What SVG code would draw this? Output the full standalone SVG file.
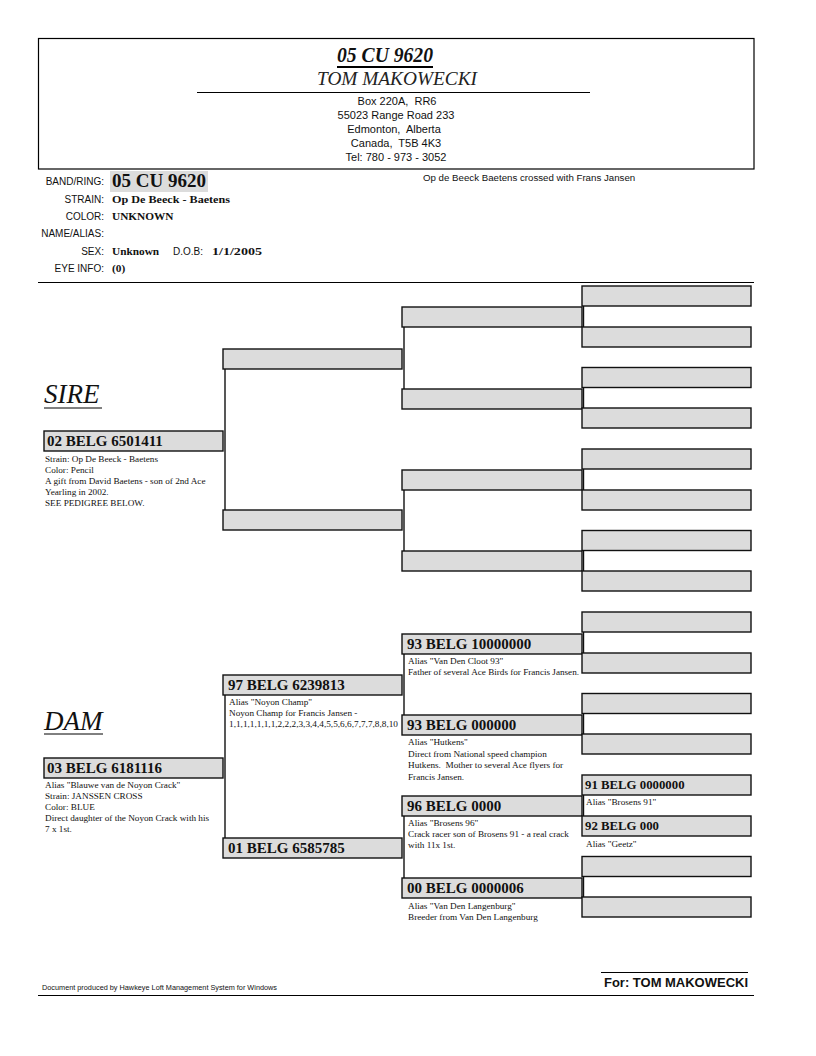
<svg xmlns="http://www.w3.org/2000/svg" width="816" height="1056" viewBox="0 0 816 1056">
<style>
.box{fill:#dcdcdc;stroke:#111;stroke-width:1.4}
.con{stroke:#111;stroke-width:1.4;fill:none}
.rule{stroke:#000;stroke-width:1.2}
.serif{font-family:"Liberation Serif","Times New Roman",serif}
.sans{font-family:"Liberation Sans",Arial,sans-serif}
.b15{font-family:"Liberation Serif",serif;font-weight:bold;font-size:15px;fill:#111}
.b12{font-family:"Liberation Serif",serif;font-weight:bold;font-size:12.8px;fill:#111}
.note{font-family:"Liberation Serif",serif;font-size:9.2px;fill:#111}
.lbl{font-family:"Liberation Sans",Arial,sans-serif;font-size:10px;fill:#111;text-anchor:end}
.val{font-family:"Liberation Serif",serif;font-weight:bold;font-size:11.3px;fill:#111}
.addr{font-family:"Liberation Sans",Arial,sans-serif;font-size:11px;fill:#111;text-anchor:middle;white-space:pre}
</style>
<rect width="816" height="1056" fill="#fff"/>

<g id="header">
<rect x="38.5" y="38.5" width="715.5" height="130.5" fill="none" stroke="#000" stroke-width="1.2"/>
<text x="385" y="62" class="serif" font-size="22" font-weight="bold" font-style="italic" text-anchor="middle" fill="#111" textLength="96" lengthAdjust="spacingAndGlyphs">05 CU 9620</text>
<line x1="337" y1="67" x2="433" y2="67" stroke="#000" stroke-width="2"/>
<text x="397" y="85" class="serif" font-size="18" font-style="italic" text-anchor="middle" fill="#222" textLength="160" lengthAdjust="spacingAndGlyphs">TOM MAKOWECKI</text>
<line x1="197" y1="92.5" x2="590" y2="92.5" class="rule"/>
<text x="397" y="105" class="addr" xml:space="preserve">Box 220A,  RR6</text>
<text x="396" y="119" class="addr">55023 Range Road 233</text>
<text x="394" y="133" class="addr" xml:space="preserve">Edmonton,  Alberta</text>
<text x="396" y="147" class="addr" xml:space="preserve">Canada,  T5B 4K3</text>
<text x="396" y="161" class="addr">Tel: 780 - 973 - 3052</text>
</g>

<g id="info">
<text x="104" y="185" class="lbl">BAND/RING:</text>
<rect x="110" y="171" width="98" height="21" fill="#dcdcdc"/>
<text x="112" y="186.5" class="serif" font-size="19" font-weight="bold" fill="#111" textLength="94" lengthAdjust="spacingAndGlyphs">05 CU 9620</text>
<text x="104" y="203" class="lbl">STRAIN:</text>
<text x="112" y="203" class="val" textLength="118" lengthAdjust="spacingAndGlyphs">Op De Beeck - Baetens</text>
<text x="104" y="220" class="lbl">COLOR:</text>
<text x="112" y="220" class="val">UNKNOWN</text>
<text x="104" y="237" class="lbl">NAME/ALIAS:</text>
<text x="104" y="255" class="lbl">SEX:</text>
<text x="112" y="255" class="val">Unknown</text>
<text x="203" y="255" class="lbl">D.O.B:</text>
<text x="212" y="255" class="val" textLength="50" lengthAdjust="spacingAndGlyphs">1/1/2005</text>
<text x="104" y="272" class="lbl">EYE INFO:</text>
<text x="112" y="272" class="val">(0)</text>
<text x="423" y="181" class="sans" font-size="9.7" fill="#111">Op de Beeck Baetens crossed with Frans Jansen</text>
<line x1="38" y1="282.5" x2="754" y2="282.5" class="rule"/>
</g>

<g id="connectors">
<line x1="225" y1="369" x2="225" y2="510" class="con"/>
<line x1="225" y1="695" x2="225" y2="838" class="con"/>
<line x1="404" y1="327" x2="404" y2="389" class="con"/>
<line x1="404" y1="490" x2="404" y2="551" class="con"/>
<line x1="404" y1="654" x2="404" y2="715" class="con"/>
<line x1="404" y1="816" x2="404" y2="878" class="con"/>
<line x1="583.5" y1="306" x2="583.5" y2="327" class="con"/>
<line x1="583.5" y1="387.5" x2="583.5" y2="408" class="con"/>
<line x1="583.5" y1="469" x2="583.5" y2="490" class="con"/>
<line x1="583.5" y1="550.5" x2="583.5" y2="571" class="con"/>
<line x1="583.5" y1="632" x2="583.5" y2="653" class="con"/>
<line x1="583.5" y1="713.5" x2="583.5" y2="734" class="con"/>
<line x1="583.5" y1="795" x2="583.5" y2="816" class="con"/>
<line x1="583.5" y1="876.5" x2="583.5" y2="897" class="con"/>
</g>

<g id="sire">
<text x="44" y="403" class="serif" font-size="27" font-style="italic" fill="#111">SIRE</text>
<line x1="44" y1="408" x2="102" y2="408" stroke="#000" stroke-width="1"/>
<rect x="44" y="431" width="179" height="20" class="box"/>
<text x="47" y="446" class="b15">02 BELG 6501411</text>
<text x="45" y="461.5" class="note">Strain: Op De Beeck - Baetens</text>
<text x="45" y="472.5" class="note">Color: Pencil</text>
<text x="45" y="483.5" class="note">A gift from David Baetens - son of 2nd Ace</text>
<text x="45" y="494.5" class="note">Yearling in 2002.</text>
<text x="45" y="505.5" class="note">SEE PEDIGREE BELOW.</text>
</g>

<g id="dam">
<text x="44" y="730" class="serif" font-size="27" font-style="italic" fill="#111">DAM</text>
<line x1="44" y1="734" x2="103" y2="734" stroke="#000" stroke-width="1"/>
<rect x="44" y="758" width="179" height="20" class="box"/>
<text x="47" y="773" class="b15">03 BELG 6181116</text>
<text x="45" y="788" class="note">Alias "Blauwe van de Noyon Crack"</text>
<text x="45" y="799" class="note">Strain: JANSSEN CROSS</text>
<text x="45" y="810" class="note">Color: BLUE</text>
<text x="45" y="821" class="note">Direct daughter of the Noyon Crack with his</text>
<text x="45" y="832" class="note">7 x 1st.</text>
</g>

<g id="ss"><rect x="223" y="349" width="179" height="20" class="box"/></g>
<g id="sd"><rect x="223" y="510" width="179" height="20" class="box"/></g>
<g id="ds">
<rect x="223" y="675" width="179" height="20" class="box"/>
<text x="228" y="690" class="b15">97 BELG 6239813</text>
<text x="229" y="705" class="note">Alias "Noyon Champ"</text>
<text x="229" y="716" class="note">Noyon Champ for Francis Jansen -</text>
<text x="229" y="727" class="note" textLength="169" lengthAdjust="spacingAndGlyphs">1,1,1,1,1,1,1,2,2,2,3,3,4,4,5,5,6,6,7,7,7,8,8,10</text>
</g>
<g id="dd">
<rect x="223" y="838" width="179" height="20" class="box"/>
<text x="228" y="853" class="b15">01 BELG 6585785</text>
</g>

<g id="sss"><rect x="402" y="307" width="180" height="20" class="box"/></g>
<g id="ssd"><rect x="402" y="389" width="180" height="20" class="box"/></g>
<g id="sds"><rect x="402" y="470" width="180" height="20" class="box"/></g>
<g id="sdd"><rect x="402" y="551" width="180" height="20" class="box"/></g>
<g id="dss">
<rect x="402" y="634" width="180" height="20" class="box"/>
<text x="407" y="649" class="b15">93 BELG 10000000</text>
<text x="408" y="664" class="note">Alias "Van Den Cloot 93"</text>
<text x="408" y="675" class="note" textLength="171" lengthAdjust="spacingAndGlyphs">Father of several Ace Birds for Francis Jansen.</text>
</g>
<g id="dsd">
<rect x="402" y="715" width="180" height="20" class="box"/>
<text x="407" y="730" class="b15">93 BELG 000000</text>
<text x="408" y="745" class="note">Alias "Hutkens"</text>
<text x="408" y="756.5" class="note">Direct from National speed champion</text>
<text x="408" y="768" class="note" xml:space="preserve">Hutkens.  Mother to several Ace flyers for</text>
<text x="408" y="779.5" class="note">Francis Jansen.</text>
</g>
<g id="dds">
<rect x="402" y="796" width="180" height="20" class="box"/>
<text x="407" y="811" class="b15">96 BELG 0000</text>
<text x="408" y="825.5" class="note">Alias "Brosens 96"</text>
<text x="408" y="836.5" class="note">Crack racer son of Brosens 91 - a real crack</text>
<text x="408" y="847.5" class="note">with 11x 1st.</text>
</g>
<g id="ddd">
<rect x="402" y="878" width="180" height="20" class="box"/>
<text x="407" y="893" class="b15">00 BELG 0000006</text>
<text x="408" y="909" class="note">Alias "Van Den Langenburg"</text>
<text x="408" y="920" class="note">Breeder from Van Den Langenburg</text>
</g>

<g id="g3-0"><rect x="582" y="286" width="169" height="20" class="box"/></g>
<g id="g3-1"><rect x="582" y="327" width="169" height="20" class="box"/></g>
<g id="g3-2"><rect x="582" y="367.5" width="169" height="20" class="box"/></g>
<g id="g3-3"><rect x="582" y="408" width="169" height="20" class="box"/></g>
<g id="g3-4"><rect x="582" y="449" width="169" height="20" class="box"/></g>
<g id="g3-5"><rect x="582" y="490" width="169" height="20" class="box"/></g>
<g id="g3-6"><rect x="582" y="530.5" width="169" height="20" class="box"/></g>
<g id="g3-7"><rect x="582" y="571" width="169" height="20" class="box"/></g>
<g id="g3-8"><rect x="582" y="612" width="169" height="20" class="box"/></g>
<g id="g3-9"><rect x="582" y="653" width="169" height="20" class="box"/></g>
<g id="g3-10"><rect x="582" y="693.5" width="169" height="20" class="box"/></g>
<g id="g3-11"><rect x="582" y="734" width="169" height="20" class="box"/></g>
<g id="g3-12">
<rect x="582" y="775" width="169" height="20" class="box"/>
<text x="585" y="789" class="b12">91 BELG 0000000</text>
<text x="586" y="805" class="note">Alias "Brosens 91"</text>
</g>
<g id="g3-13">
<rect x="582" y="816" width="169" height="20" class="box"/>
<text x="585" y="830" class="b12">92 BELG 000</text>
<text x="586" y="847" class="note">Alias "Geetz"</text>
</g>
<g id="g3-14"><rect x="582" y="856.5" width="169" height="20" class="box"/></g>
<g id="g3-15"><rect x="582" y="897" width="169" height="20" class="box"/></g>

<g id="footer">
<text x="42" y="990" class="sans" font-size="7" fill="#111" textLength="235" lengthAdjust="spacingAndGlyphs">Document produced by Hawkeye Loft Management System for Windows</text>
<line x1="601" y1="972.5" x2="748" y2="972.5" class="rule"/>
<text x="604" y="987" class="sans" font-size="12.5" font-weight="bold" fill="#111" textLength="144" lengthAdjust="spacingAndGlyphs">For: TOM MAKOWECKI</text>
<line x1="38" y1="995.5" x2="754" y2="995.5" class="rule"/>
</g>
</svg>
